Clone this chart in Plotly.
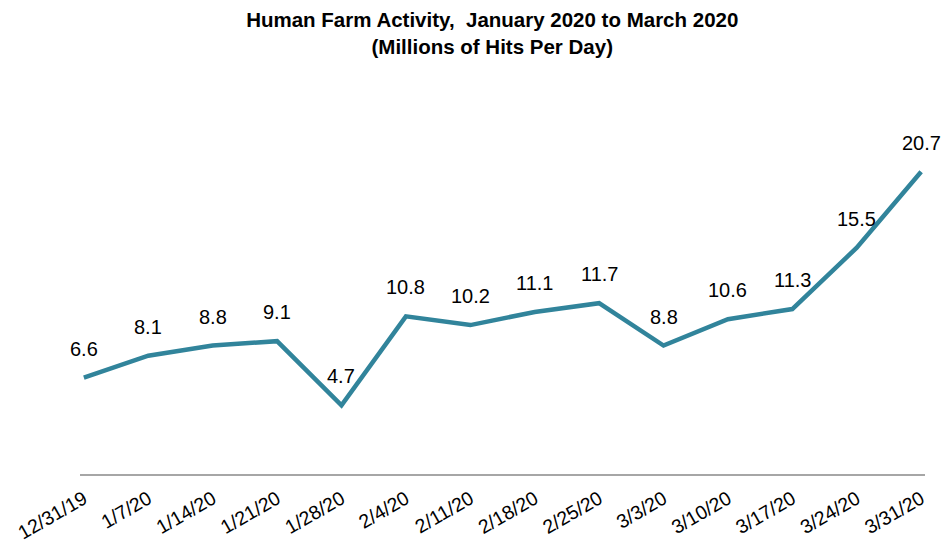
import plotly.graph_objects as go

dates = ["12/31/19", "1/7/20", "1/14/20", "1/21/20", "1/28/20", "2/4/20", "2/11/20",
         "2/18/20", "2/25/20", "3/3/20", "3/10/20", "3/17/20", "3/24/20", "3/31/20"]
hits = [6.6, 8.1, 8.8, 9.1, 4.7, 10.8, 10.2, 11.1, 11.7, 8.8, 10.6, 11.3, 15.5, 20.7]

LINE = "#31849B"
FONT = "Liberation Sans, Arial, sans-serif"

fig = go.Figure()
fig.add_trace(go.Scatter(x=dates, y=hits, mode="lines",
                         line=dict(color=LINE, width=4.5), hoverinfo="x+y"))

for d, v in zip(dates, hits):
    fig.add_annotation(x=d, y=v, text=f"{v:.1f}", showarrow=False, yshift=29,
                       font=dict(family=FONT, size=20, color="#000000"))

fig.update_layout(
    width=943, height=544,
    margin=dict(l=80, r=18, t=109, b=70),
    paper_bgcolor="white", plot_bgcolor="white",
    showlegend=False,
    title=dict(text="<b>Human Farm Activity,  January 2020 to March 2020<br>(Millions of Hits Per Day)</b>",
               x=0.522, xanchor="center", y=0.95, yanchor="top",
               font=dict(family=FONT, size=20.5, color="#000000")),
    xaxis=dict(type="category", range=[-0.06, 13.06], showgrid=False, zeroline=False,
               showline=True, linecolor="#A6A6A6", linewidth=2, ticks="", automargin=False,
               ticklabelstandoff=4,
               tickangle=-30, tickfont=dict(family=FONT, size=19.5, color="#000000")),
    yaxis=dict(range=[0, 25], visible=False, showgrid=False, zeroline=False),
)

fig.write_html("out.html")
